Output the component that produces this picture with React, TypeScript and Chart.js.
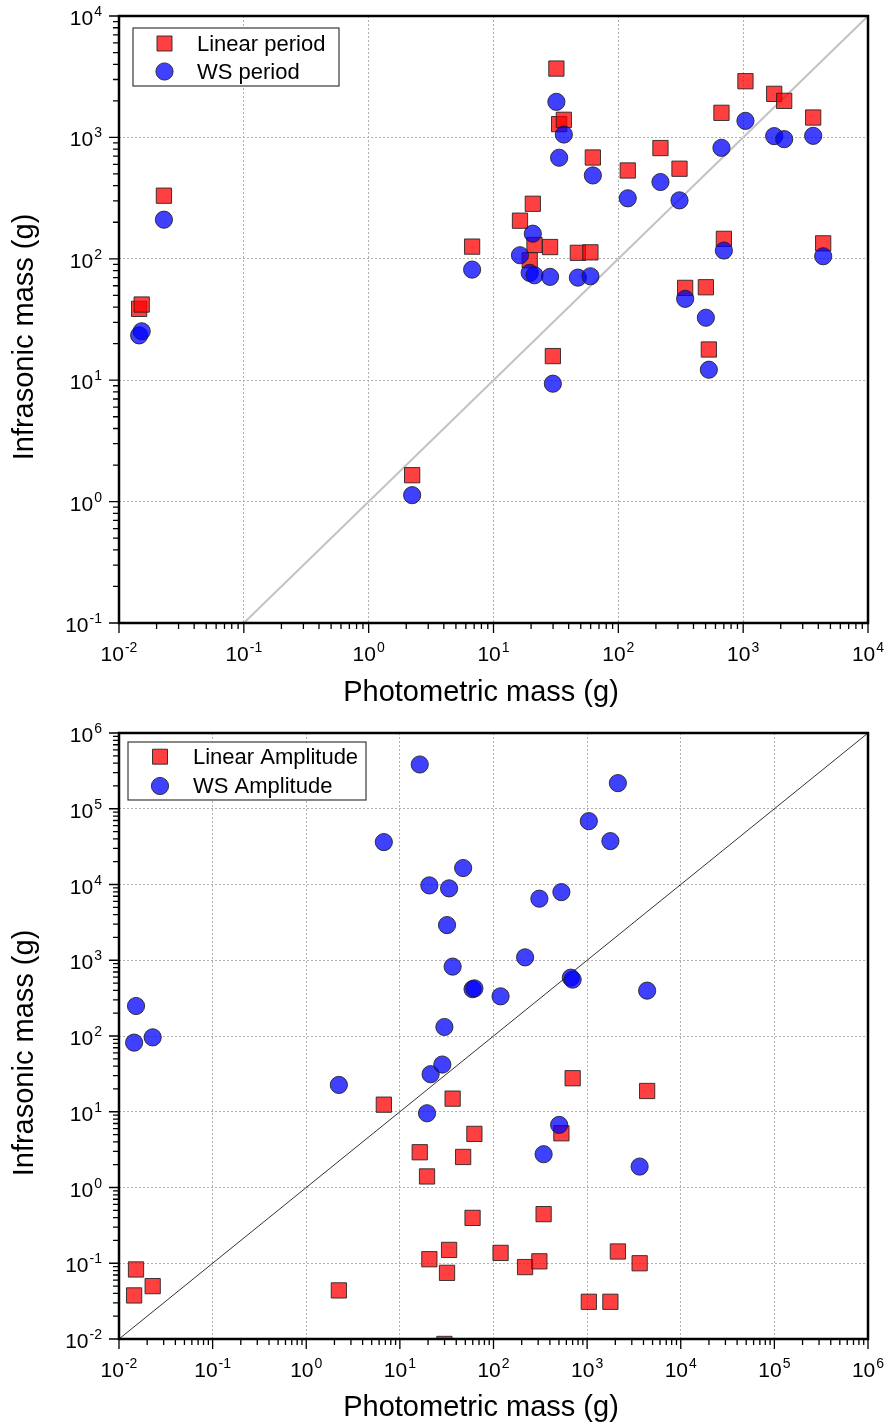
import React, { useEffect, useRef } from 'react';
import { Chart, registerables } from 'chart.js';

Chart.register(...registerables);

const FONT = '"Liberation Sans", Arial, sans-serif';

// ---- Data ----
// Photometric masses (g) of the 30 events, shared by both panels
const photometricMass = [
  0.0145, 0.0152, 0.0229, 2.23, 6.74, 16.3, 19.5, 20.65, 21.3, 28.4,
  29.9, 31.9, 33.55, 36.6, 47.4, 59.75, 62.5, 119, 217.5, 309,
  343, 502.5, 531, 670, 700.6, 1043, 1772, 2131, 3638, 4375,
];
// Top panel: infrasonic mass from period (g)
const linearPeriodMass = [
  38.7, 42.0, 331, 1.65, 126, 206, 97.2, 284, 130, 125,
  15.8, 3690, 1286, 1396, 112, 113, 683, 534, 817, 552,
  57.6, 58.3, 17.9, 1594, 146, 2904, 2284, 2000, 1458, 134,
];
const wsPeriodMass = [
  23.4, 25.3, 210, 1.13, 81.5, 107, 76.6, 161, 73.2, 71.0,
  9.36, 1963, 680, 1056, 70, 71.8, 486, 315, 429, 303,
  46.8, 32.7, 12.2, 821, 117, 1369, 1025, 968, 1030, 105,
];
// Bottom panel: infrasonic mass from amplitude (g)
const linearAmplitudeMass = [
  0.0376, 0.0828, 0.0499, 0.0438, 12.4, 2.92, 1.40, 0.113, null, null,
  0.0086, 0.0747, 0.150, 14.9, 2.53, 0.397, 5.1, 0.137, 0.089, 0.106,
  0.445, null, 5.2, null, 27.7, 0.031, 0.031, 0.143, 0.100, 18.8,
];
const wsAmplitudeMass = [
  81.8, 249, 96, 22.6, 36300, 384000, 9.55, 9730, 31.3, 42,
  131.5, 2913, 8890, 824, 16500, 415, 425, 334, 1092, 6500,
  2.75, 6.7, 7940, 589, 555, 68600, 37400, 218000, 1.89, 397,
];
// Axis ranges and 1:1 reference lines
const topXRange = [0.01, 1e4];
const topYRange = [0.1, 1e4];
const bottomXRange = [0.01, 1e6];
const bottomYRange = [0.01, 1e6];
const topDiagonal = [0.1, 1e4];
const bottomDiagonal = [0.01, 1e6];

const xTitleText = 'Photometric mass (g)';
const yTitleText = 'Infrasonic mass (g)';

// ---- Styles ----
const RED = 'rgba(255, 0, 0, 0.75)';
const BLUE = 'rgba(0, 0, 255, 0.75)';
const EDGE = 'rgba(30, 30, 30, 0.85)';

function toPoints(xs: number[], ys: (number | null)[]) {
  const out: { x: number; y: number }[] = [];
  xs.forEach((x, i) => {
    const y = ys[i];
    if (y != null) out.push({ x, y });
  });
  return out;
}

function logTicks(min: number, max: number) {
  const out: { value: number; major: boolean }[] = [];
  const e0 = Math.round(Math.log10(min));
  const e1 = Math.round(Math.log10(max));
  for (let e = e0; e < e1; e++) {
    for (let k = 1; k < 10; k++) {
      out.push({ value: parseFloat((k * Math.pow(10, e)).toPrecision(6)), major: k === 1 });
    }
  }
  out.push({ value: max, major: true });
  return out;
}

function drawPower(ctx: CanvasRenderingContext2D, exp: number, x: number, y: number, align: string) {
  const base = '10';
  const sup = exp < 0 ? '-' + Math.abs(exp) : String(exp);
  ctx.font = `21px ${FONT}`;
  const w1 = ctx.measureText(base).width;
  ctx.font = `14px ${FONT}`;
  const w2 = ctx.measureText(sup).width;
  const total = w1 + 1 + w2;
  const x0 = align === 'center' ? x - total / 2 : x - total;
  ctx.textAlign = 'left';
  ctx.textBaseline = 'alphabetic';
  ctx.font = `21px ${FONT}`;
  ctx.fillText(base, x0, y);
  ctx.font = `14px ${FONT}`;
  ctx.fillText(sup, x0 + w1 + 1, y - 9);
}

const decorPlugin = {
  id: 'decor',
  afterDraw(chart: any, _args: any, o: any) {
    const { ctx, chartArea: a } = chart;
    const sx = chart.scales.x;
    const sy = chart.scales.y;
    ctx.save();
    // tick marks (outward)
    ctx.strokeStyle = '#000';
    ctx.lineWidth = 1.3;
    ctx.beginPath();
    for (const t of sx.ticks) {
      const p = sx.getPixelForValue(t.value);
      const len = t.major ? 10 : 6;
      ctx.moveTo(p, a.bottom);
      ctx.lineTo(p, a.bottom + len);
    }
    for (const t of sy.ticks) {
      const p = sy.getPixelForValue(t.value);
      const len = t.major ? 10 : 6;
      ctx.moveTo(a.left, p);
      ctx.lineTo(a.left - len, p);
    }
    ctx.stroke();
    // frame
    ctx.lineWidth = 2.5;
    ctx.strokeRect(a.left, a.top, a.right - a.left, a.bottom - a.top);
    // tick labels
    ctx.fillStyle = '#000';
    for (const t of sx.ticks) {
      if (!t.major) continue;
      drawPower(ctx, Math.round(Math.log10(t.value)), sx.getPixelForValue(t.value), a.bottom + 38, 'center');
    }
    for (const t of sy.ticks) {
      if (!t.major) continue;
      drawPower(ctx, Math.round(Math.log10(t.value)), a.left - 17, sy.getPixelForValue(t.value) + 9, 'right');
    }
    // axis titles
    ctx.fillStyle = '#000';
    ctx.font = `29px ${FONT}`;
    ctx.textAlign = 'center';
    ctx.textBaseline = 'middle';
    ctx.fillText(o.xTitle, o.xTitlePos[0], o.xTitlePos[1]);
    ctx.save();
    ctx.translate(o.yTitlePos[0], o.yTitlePos[1]);
    ctx.rotate(-Math.PI / 2);
    ctx.fillText(o.yTitle, 0, 0);
    ctx.restore();
    // legend
    const L = o.legend;
    ctx.fillStyle = '#fff';
    ctx.fillRect(L.box[0], L.box[1], L.box[2], L.box[3]);
    ctx.strokeStyle = '#3a3a3a';
    ctx.lineWidth = 1.2;
    ctx.strokeRect(L.box[0], L.box[1], L.box[2], L.box[3]);
    L.items.forEach((it: any) => {
      const ds = chart.data.datasets[it.datasetIndex];
      ctx.beginPath();
      if (ds.pointStyle === 'rect') ctx.rect(L.markerX - 7.5, it.y - 7.5, 15, 15);
      else ctx.arc(L.markerX, it.y, 8.6, 0, Math.PI * 2);
      ctx.fillStyle = ds.backgroundColor;
      ctx.fill();
      ctx.strokeStyle = EDGE;
      ctx.lineWidth = 1;
      ctx.stroke();
      ctx.fillStyle = '#000';
      ctx.font = `22px ${FONT}`;
      ctx.textAlign = 'left';
      ctx.textBaseline = 'middle';
      ctx.fillText(ds.label, L.textX, it.y + 1);
    });
    ctx.restore();
  },
};

function axisOpts(range: number[], fixed: number, isX: boolean) {
  return {
    type: 'logarithmic',
    min: range[0],
    max: range[1],
    afterBuildTicks: (s: any) => {
      s.ticks = logTicks(range[0], range[1]);
    },
    afterFit: (s: any) => {
      if (isX) s.height = fixed;
      else s.width = fixed;
    },
    ticks: { display: false },
    grid: {
      drawTicks: false,
      lineWidth: 1,
      color: (c: any) => (c.tick && c.tick.major ? '#b0b0b0' : 'rgba(0,0,0,0)'),
    },
    border: { display: false, dash: [2, 2] },
  };
}

function makeConfig(spec: any) {
  return {
    type: 'scatter',
    data: {
      datasets: [
        {
          label: spec.circleLabel,
          data: spec.circles,
          pointStyle: 'circle',
          pointRadius: 8.6,
          backgroundColor: BLUE,
          borderColor: EDGE,
          borderWidth: 1,
          order: 0,
        },
        {
          label: spec.squareLabel,
          data: spec.squares,
          pointStyle: 'rect',
          pointRadius: 10.8,
          backgroundColor: RED,
          borderColor: EDGE,
          borderWidth: 1,
          order: 1,
          clip: 0,
        },
        {
          label: '1:1',
          data: spec.diagonal,
          showLine: true,
          pointRadius: 0,
          borderColor: spec.diagColor,
          borderWidth: spec.diagWidth,
          order: 2,
        },
      ],
    },
    options: {
      responsive: false,
      animation: false,
      devicePixelRatio: 1,
      events: [],
      layout: { padding: spec.padding },
      plugins: {
        legend: { display: false },
        tooltip: { enabled: false },
        decor: {
          xTitle: xTitleText,
          yTitle: yTitleText,
          xTitlePos: spec.xTitlePos,
          yTitlePos: spec.yTitlePos,
          legend: spec.legend,
        },
      },
      scales: {
        x: axisOpts(spec.xRange, spec.xAxisHeight, true),
        y: axisOpts(spec.yRange, spec.yAxisWidth, false),
      },
    },
    plugins: [decorPlugin],
  };
}

const topConfig = () =>
  makeConfig({
    circles: toPoints(photometricMass, wsPeriodMass),
    squares: toPoints(photometricMass, linearPeriodMass),
    diagonal: topDiagonal.map((v) => ({ x: v, y: v })),
    circleLabel: 'WS period',
    squareLabel: 'Linear period',
    diagColor: '#c3c3c3',
    diagWidth: 2,
    xRange: topXRange,
    yRange: topYRange,
    padding: { left: 0, top: 16, right: 20, bottom: 0 },
    xAxisHeight: 89,
    yAxisWidth: 119,
    xTitlePos: [481, 693],
    yTitlePos: [25, 337],
    legend: {
      box: [133, 28, 206, 58],
      markerX: 164.5,
      textX: 197,
      items: [
        { datasetIndex: 1, y: 43.5 },
        { datasetIndex: 0, y: 71.5 },
      ],
    },
  });

const bottomConfig = () =>
  makeConfig({
    circles: toPoints(photometricMass, wsAmplitudeMass),
    squares: toPoints(photometricMass, linearAmplitudeMass),
    diagonal: bottomDiagonal.map((v) => ({ x: v, y: v })),
    circleLabel: 'WS Amplitude',
    squareLabel: 'Linear Amplitude',
    diagColor: '#333333',
    diagWidth: 1,
    xRange: bottomXRange,
    yRange: bottomYRange,
    padding: { left: 0, top: 21, right: 20, bottom: 0 },
    xAxisHeight: 88,
    yAxisWidth: 119,
    xTitlePos: [481, 696],
    yTitlePos: [25, 341],
    legend: {
      box: [128, 30, 238, 58],
      markerX: 160,
      textX: 193,
      items: [
        { datasetIndex: 1, y: 44.7 },
        { datasetIndex: 0, y: 74 },
      ],
    },
  });

function ChartCanvas({ makeCfg, width, height }: { makeCfg: () => any; width: number; height: number }) {
  const ref = useRef<HTMLCanvasElement | null>(null);
  useEffect(() => {
    if (!ref.current) return;
    const chart = new Chart(ref.current, makeCfg());
    return () => chart.destroy();
  }, [makeCfg]);
  return <canvas ref={ref} width={width} height={height} style={{ display: 'block', width, height }} />;
}

export default function App() {
  return (
    <div style={{ width: 888, background: '#ffffff' }}>
      <style>{'body{margin:0;background:#fff;}'}</style>
      <ChartCanvas makeCfg={topConfig} width={888} height={712} />
      <ChartCanvas makeCfg={bottomConfig} width={888} height={715} />
    </div>
  );
}
